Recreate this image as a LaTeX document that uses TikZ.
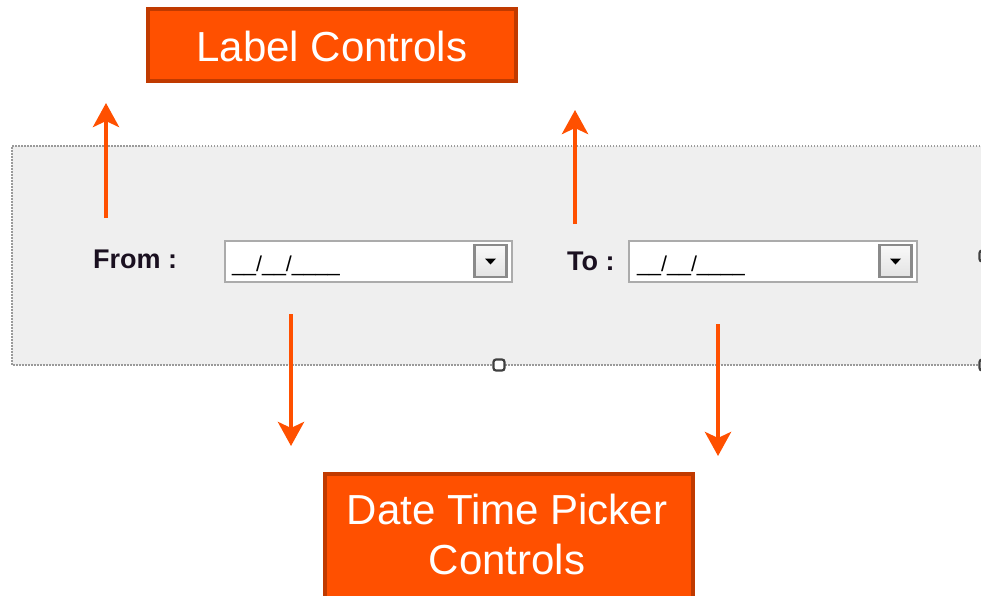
\documentclass[tikz,border=0pt]{standalone}
\usepackage{fontspec}
\setmainfont{Liberation Sans}
\usetikzlibrary{arrows.meta}
\definecolor{orangefill}{HTML}{FF5000}
\definecolor{orangeedge}{HTML}{C03A00}
\definecolor{panelgray}{HTML}{EFEFEF}
\definecolor{dotgray}{HTML}{9A9A9A}
\definecolor{fieldedge}{HTML}{ABABAB}
\definecolor{btnedge}{HTML}{8A8A8A}
\definecolor{txtdark}{HTML}{1A1020}
\tikzset{
  obox/.style={draw=orangeedge, line width=4pt, fill=orangefill, inner sep=0pt},
  wtext/.style={text=white, font=\fontsize{42}{50}\selectfont, inner sep=0pt},
  arr/.style={draw=orangefill, line width=4.5pt, -{Stealth[length=24pt, width=26pt, inset=6pt]}},
  lbl/.style={font=\fontsize{27}{30}\selectfont\bfseries, text=txtdark, inner sep=0pt, anchor=base west},
  datetxt/.style={font=\fontsize{21.5}{26}\selectfont, inner sep=0pt, anchor=base west},
  field/.style={draw=fieldedge, line width=1.5pt, fill=white, inner sep=0pt},
  btn/.style={draw=btnedge, line width=2.5pt, top color=white!95!gray, bottom color=gray!22, inner sep=0pt},
  handle/.style={draw=black!75, line width=2.2pt, fill=white, rounded corners=2.5pt, minimum size=11pt, inner sep=0pt},
}
\begin{document}
\begin{tikzpicture}[x=1pt, y=-1pt]
\clip (0,0) rectangle (981,595);
\fill[white] (0,0) rectangle (981,595);
% panel
\fill[panelgray] (12,146) rectangle (995,365);
\draw[dotgray, line width=1.5pt, dash pattern=on 1.5pt off 1.5pt] (995,146) -- (12,146) -- (12,365) -- (995,365);
% handles
\node[handle] (h1) at (499,365) {};
\node[handle] (h2) at (985,256) {};
\node[handle] (h3) at (985,365) {};
% labels
\node[lbl] (from) at (93,268) {From :};
\node[lbl] (to) at (567,270) {To :};
% fields
\node[field, minimum width=287pt, minimum height=41pt, anchor=north west] (f1) at (224,240) {};
\node[btn, minimum width=32pt, minimum height=32pt] (b1) at (490.5,261) {};
\fill (b1.center) ++(-5.5,-2.5) -- ++(11,0) -- ++(-5.5,6) -- cycle;
\node[datetxt] (d1) at (232,271) {\_\_/\_\_/\_\_\_\_};
\node[field, minimum width=288pt, minimum height=41pt, anchor=north west] (f2) at (628,240) {};
\node[btn, minimum width=32pt, minimum height=32pt] (b2) at (895.5,261) {};
\fill (b2.center) ++(-5.5,-2.5) -- ++(11,0) -- ++(-5.5,6) -- cycle;
\node[datetxt] (d2) at (637,271) {\_\_/\_\_/\_\_\_\_};
% callout boxes
\node[obox, minimum width=368pt, minimum height=72pt] (lblbox) at (332,45) {};
\node[wtext] (lbltext) at (332,46) {Label Controls};
\node[obox, minimum width=368pt, minimum height=140pt, anchor=north west] (dtpbox) at (323,472) {};
\node[wtext, align=center] (dtptext) at (507,534) {Date Time Picker\\Controls};
% arrows
\coordinate (a1s) at (106,218);
\coordinate (a1e) at (106,103);
\coordinate (a2s) at (575,224);
\coordinate (a2e) at (575,110);
\coordinate (a3s) at (291,314);
\coordinate (a3e) at (291,446);
\coordinate (a4s) at (718,324);
\coordinate (a4e) at (718,456);
\draw[arr] (a1s) -- (a1e);
\draw[arr] (a2s) -- (a2e);
\draw[arr] (a3s) -- (a3e);
\draw[arr] (a4s) -- (a4e);
\end{tikzpicture}
\end{document}
